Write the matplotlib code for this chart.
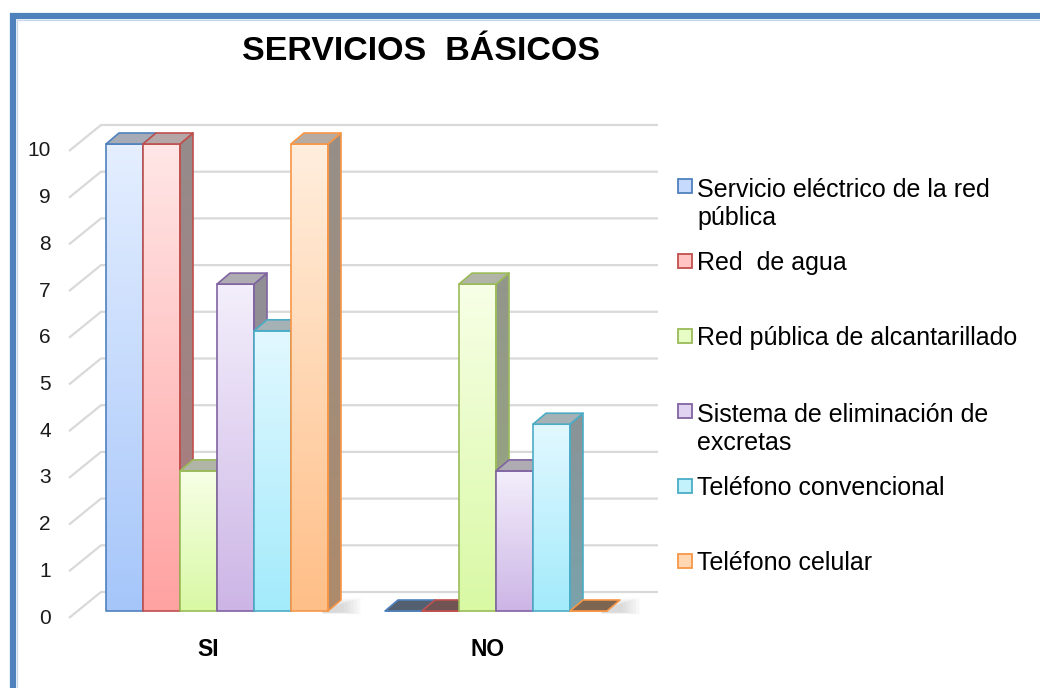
import matplotlib
matplotlib.use('Agg')
import matplotlib.pyplot as plt
import numpy as np
from matplotlib.patches import Polygon, Rectangle
from matplotlib.lines import Line2D
from matplotlib.colors import LinearSegmentedColormap, to_rgb

plt.rcParams['font.family'] = ['Liberation Sans', 'DejaVu Sans']

# ---- data ----
categories = ['SI', 'NO']
series_names = ['Servicio eléctrico de la red\npública', 'Red  de agua',
                'Red pública de alcantarillado',
                'Sistema de eliminación de\nexcretas',
                'Teléfono convencional', 'Teléfono celular']
electrico = [10, 0]
agua = [10, 0]
alcantarillado = [3, 7]
excretas = [7, 3]
convencional = [6, 4]
celular = [10, 0]
series_values = [electrico, agua, alcantarillado, excretas, convencional, celular]
y_ticks = list(range(0, 11))

# (front top, front bottom, edge)
palette = [('#e4eeff', '#a6c6fa', '#4f81bd'),
           ('#ffe6e6', '#ffa2a2', '#c0504d'),
           ('#f7ffe6', '#d9f9a5', '#9bbb59'),
           ('#f3eefb', '#cdb6e6', '#8064a2'),
           ('#e2f8ff', '#a3ebfb', '#4bacc6'),
           ('#ffeedd', '#ffbf88', '#f79646')]


def mix(c1, c2, t):
    a, b = np.array(to_rgb(c1)), np.array(to_rgb(c2))
    return tuple(a * (1 - t) + b * t)


# ---- layout (pixels) ----
W, H = 1040, 688
CAT_PX = 279.0      # pixels per category step
VAL_PX = 46.7       # pixels per unit
X0_PX, Y0_PX = 217, 611   # centre of first group, bar base
AX_L, AX_R, AX_T, AX_B = 40, 700, 100, 660

fig = plt.figure(figsize=(W / 100, H / 100), dpi=100)
ax = fig.add_axes([AX_L / W, 1 - AX_B / H, (AX_R - AX_L) / W, (AX_B - AX_T) / H])
ax.axis('off')

bw = 37 / CAT_PX              # bar width
ddx, ddy = 13 / CAT_PX, 11 / VAL_PX      # bar depth
wall_l = (101 - X0_PX) / CAT_PX
wall_r = (658 - X0_PX) / CAT_PX
front_l = (69 - X0_PX) / CAT_PX
back_dy = (Y0_PX - 592) / VAL_PX
front_dy = (Y0_PX - 618) / VAL_PX


def grad_poly(verts, c_top, c_bot, edge, z, lw=1.2):
    poly = Polygon(verts, closed=True, facecolor='none', edgecolor=edge,
                   lw=lw, zorder=z + 0.05, joinstyle='round')
    ax.add_patch(poly)
    xs = [p[0] for p in verts]
    ys = [p[1] for p in verts]
    if max(ys) - min(ys) < 1e-6:
        return
    cmap = LinearSegmentedColormap.from_list('g', [c_bot, c_top])
    im = ax.imshow(np.linspace(0, 1, 64).reshape(-1, 1), cmap=cmap, origin='lower',
                   extent=[min(xs), max(xs), min(ys), max(ys)], aspect='auto',
                   interpolation='bilinear', zorder=z)
    im.set_clip_path(poly)


# gridlines: back wall + side wall
for v in y_ticks:
    ax.plot([front_l, wall_l, wall_r], [v + front_dy, v + back_dy, v + back_dy],
            color='#d9d9d9', lw=1.6, zorder=1, solid_capstyle='butt')
    ax.text(front_l - 0.065, v + front_dy, str(v), ha='right', va='center',
            fontsize=15, color='#1a1a1a')

# floor shadows to the right of each group
for i in range(len(categories)):
    gx = i + 3 * bw
    for k in range(6):
        ax.add_patch(Polygon([(gx - 0.02, 0), (gx + ddx + 0.01 + k * 0.012, ddy + 0.05),
                              (gx + ddx + 0.01 + k * 0.012, -0.02 - k * 0.01), (gx - 0.02, -0.05)],
                             closed=True, facecolor='#7f7f7f', alpha=0.05, lw=0, zorder=1.5))

# bars
z = 2
for i in range(len(categories)):
    for k, vals in enumerate(series_values):
        top_c, bot_c, edge = palette[k]
        v = vals[i]
        x0 = i - 3 * bw + k * bw
        x1 = x0 + bw
        # front face
        grad_poly([(x0, 0), (x1, 0), (x1, v), (x0, v)], top_c, bot_c, edge, z)
        # top face
        top_fill = mix(top_c, '#5a5a5a', 0.45) if v > 0 else mix(edge, '#555555', 0.75)
        ax.add_patch(Polygon([(x0, v), (x1, v), (x1 + ddx, v + ddy), (x0 + ddx, v + ddy)],
                             closed=True, facecolor=top_fill, edgecolor=edge, lw=1.2,
                             zorder=z + 0.1, joinstyle='round'))
        # side face
        if v > 0:
            grad_poly([(x1, 0), (x1 + ddx, ddy), (x1 + ddx, v + ddy), (x1, v)],
                      mix(top_c, '#4a4a4a', 0.58), mix(bot_c, '#4a4a4a', 0.45), edge, z + 0.02)
        z += 0.3

ax.set_xlim((AX_L - X0_PX) / CAT_PX, (AX_R - X0_PX) / CAT_PX)
ax.set_ylim((Y0_PX - AX_B) / VAL_PX, (Y0_PX - AX_T) / VAL_PX)

# category labels
for i, c in enumerate(categories):
    ax.text(i - 0.03, (Y0_PX - 650) / VAL_PX, c, ha='center', va='center',
            fontsize=16.5, fontweight='bold', color='black')

# title
fig.text(421.5 / W, 1 - 60 / H, 'SERVICIOS  BÁSICOS', ha='center', va='baseline',
         fontsize=24.5, fontweight='bold', color='black')

# legend
for k, name in enumerate(series_names):
    cy = 186 + 75 * k
    top_c, bot_c, edge = palette[k]
    fig.add_artist(Rectangle((678 / W, 1 - (cy + 7) / H), 14 / W, 14 / H,
                             transform=fig.transFigure, facecolor=mix(top_c, bot_c, 0.5),
                             edgecolor=edge, lw=1.3))
    n_extra = name.count('\n')
    fig.text(697 / W, 1 - (cy + 9 + 30 * n_extra) / H, name, ha='left', va='baseline',
             fontsize=18, color='black', linespacing=1.2)

# outer frame
fig.add_artist(Line2D([12.5 / W, 12.5 / W, 1.0], [0.0, 1 - 16 / H, 1 - 16 / H],
                      transform=fig.transFigure, color='#4f81bd', lw=4.5,
                      solid_joinstyle='miter'))
fig.add_artist(Line2D([16.5 / W, 16.5 / W, 1.0], [0.0, 1 - 19.5 / H, 1 - 19.5 / H],
                      transform=fig.transFigure, color='#c5d5ea', lw=0.8))

fig.savefig('out.png', dpi=100)
